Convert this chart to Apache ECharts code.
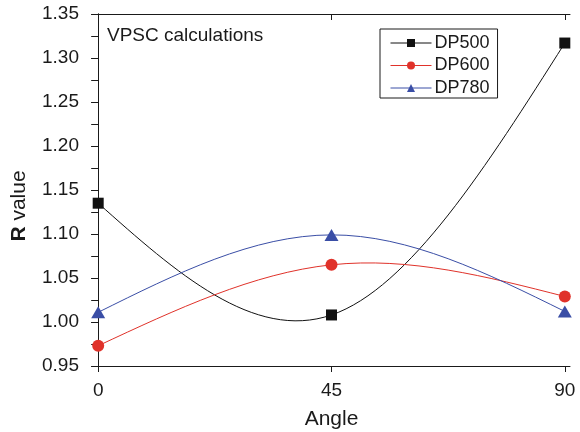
<!DOCTYPE html>
<html>
<head>
<meta charset="utf-8">
<script src="https://cdn.jsdelivr.net/npm/echarts@6/dist/echarts.min.js"></script>
<style>html,body{margin:0;padding:0;background:#fff;}#c{width:580px;height:432px;}</style>
</head>
<body>
<div id="c"></div>
<script>
var angles = [0, 45, 90];
var xTicks = [0, 45, 90];
var dp500 = [1.135, 1.008, 1.317];
var dp600 = [0.973, 1.065, 1.029];
var dp780 = [1.011, 1.099, 1.012];
var seriesNames = ['DP500', 'DP600', 'DP780'];

var colors = ['#111111', '#e0322a', '#3a4ea6'];
var symbols = ['rect', 'circle', 'triangle'];
var symbolSizes = [11, 12, [14, 12]];
var font = 'Liberation Sans, Arial, Helvetica, sans-serif';
var textColor = '#1a1a1a';

// natural cubic spline slopes at segment ends
function splineSlopes(xs, ys) {
  var n = xs.length, h = [], i;
  for (i = 0; i < n - 1; i++) h.push(xs[i + 1] - xs[i]);
  var M = new Array(n).fill(0);
  if (n > 2) {
    var a = [], b = [], c = [], d = [];
    for (i = 1; i < n - 1; i++) {
      a.push(h[i - 1]); b.push(2 * (h[i - 1] + h[i])); c.push(h[i]);
      d.push(6 * ((ys[i + 1] - ys[i]) / h[i] - (ys[i] - ys[i - 1]) / h[i - 1]));
    }
    var m = b.length;
    for (i = 1; i < m; i++) {
      var w = a[i] / b[i - 1];
      b[i] -= w * c[i - 1]; d[i] -= w * d[i - 1];
    }
    var sol = new Array(m);
    sol[m - 1] = d[m - 1] / b[m - 1];
    for (i = m - 2; i >= 0; i--) sol[i] = (d[i] - c[i] * sol[i + 1]) / b[i];
    for (i = 0; i < m; i++) M[i + 1] = sol[i];
  }
  var segs = [];
  for (i = 0; i < n - 1; i++) {
    var sl = (ys[i + 1] - ys[i]) / h[i];
    segs.push({
      s0: sl - h[i] * (2 * M[i] + M[i + 1]) / 6,
      s1: sl + h[i] * (M[i] + 2 * M[i + 1]) / 6,
      h: h[i]
    });
  }
  return segs;
}

function curveSeries(ys, color, name) {
  var segs = splineSlopes(angles, ys);
  return {
    type: 'custom',
    name: name + ' fit',
    z: 2,
    silent: true,
    clip: true,
    encode: { x: 0, y: 1 },
    data: angles.map(function (x, i) { return [x, ys[i]]; }),
    renderItem: function (params, api) {
      var i = params.dataIndex;
      if (i >= angles.length - 1) return null;
      var sg = segs[i];
      var x0 = angles[i], x1 = angles[i + 1];
      var p0 = api.coord([x0, ys[i]]);
      var c1 = api.coord([x0 + sg.h / 3, ys[i] + sg.s0 * sg.h / 3]);
      var c2 = api.coord([x1 - sg.h / 3, ys[i + 1] - sg.s1 * sg.h / 3]);
      var p1 = api.coord([x1, ys[i + 1]]);
      return {
        type: 'bezierCurve',
        shape: { x1: p0[0], y1: p0[1], cpx1: c1[0], cpy1: c1[1], cpx2: c2[0], cpy2: c2[1], x2: p1[0], y2: p1[1] },
        style: { stroke: color, lineWidth: 1, fill: null }
      };
    }
  };
}

function pointSeries(ys, k) {
  return {
    type: 'line',
    name: seriesNames[k],
    z: 3,
    data: angles.map(function (x, i) { return [x, ys[i]]; }),
    symbol: symbols[k],
    symbolSize: symbolSizes[k],
    showSymbol: true,
    itemStyle: { color: colors[k] },
    lineStyle: { width: 0, color: colors[k] },
    emphasis: { disabled: true }
  };
}

var allY = [dp500, dp600, dp780];
var series = [];
allY.forEach(function (ys, k) { series.push(curveSeries(ys, colors[k], seriesNames[k])); });
allY.forEach(function (ys, k) { series.push(pointSeries(ys, k)); });

var axisLine = { show: true, lineStyle: { color: '#1a1a1a', width: 1 } };

var option = {
  animation: false,
  backgroundColor: '#fff',
  textStyle: { fontFamily: font, color: textColor },
  grid: { left: 93, right: 10, top: 14, bottom: 66, containLabel: false, outerBoundsMode: 'none' },
  xAxis: [
    {
      type: 'value', position: 'bottom', min: -1, max: 91,
      name: 'Angle', nameLocation: 'middle', nameGap: 43,
      nameTextStyle: { fontSize: 21, color: textColor, fontFamily: font },
      axisLine: axisLine,
      axisTick: { show: true, inside: false, length: 6, customValues: xTicks, lineStyle: { color: '#1a1a1a' } },
      axisLabel: { show: true, customValues: xTicks, fontSize: 19, color: textColor, margin: 15, fontFamily: font },
      splitLine: { show: false }
    },
    {
      type: 'value', position: 'top', min: -1, max: 91,
      axisLine: axisLine,
      axisTick: { show: true, inside: true, length: 6, customValues: xTicks, lineStyle: { color: '#1a1a1a' } },
      axisLabel: { show: false },
      splitLine: { show: false }
    }
  ],
  yAxis: [
    {
      type: 'value', position: 'left', min: 0.95, max: 1.35, interval: 0.05,
      name: '{b|R} value', nameLocation: 'middle', nameGap: 63, nameRotate: 90,
      nameTextStyle: { fontSize: 21, color: textColor, fontFamily: font, padding: [0, 32, 0, 0], rich: { b: { fontWeight: 'bold', fontSize: 21, fontFamily: font, color: textColor } } },
      axisLine: axisLine,
      axisTick: { show: true, inside: false, length: 7, lineStyle: { color: '#1a1a1a' } },
      minorTick: { show: true, splitNumber: 2, length: 4, lineStyle: { color: '#1a1a1a' } },
      axisLabel: {
        show: true, fontSize: 19, color: textColor, margin: 14, fontFamily: font,
        formatter: function (v) { return v.toFixed(2); }
      },
      splitLine: { show: false }
    },
    {
      type: 'value', position: 'right', min: 0.95, max: 1.35, interval: 0.05,
      axisLine: axisLine,
      axisTick: { show: true, inside: true, length: 7, lineStyle: { color: '#1a1a1a' } },
      minorTick: { show: true, splitNumber: 2, length: 7, lineStyle: { color: '#1a1a1a' } },
      axisLabel: { show: false },
      splitLine: { show: false }
    }
  ],
  legend: {
    show: true,
    data: seriesNames,
    orient: 'vertical',
    left: 380, top: 29,
    itemWidth: 41, itemHeight: 10, itemGap: 4.5,
    padding: [5, 8, 1, 10],
    borderColor: '#1a1a1a', borderWidth: 1, borderRadius: 0,
    backgroundColor: '#fff',
    lineStyle: { width: 1 },
    textStyle: { fontSize: 18, color: textColor, fontFamily: font, padding: [0, 0, 0, -2] },
    selectedMode: false
  },
  graphic: [
    {
      type: 'text', left: 107, top: 26, z: 10,
      style: { text: 'VPSC calculations', fontSize: 19, fill: textColor, fontFamily: font }
    }
  ],
  series: series
};

var chart = echarts.init(document.getElementById('c'), null, { renderer: 'canvas' });
chart.setOption(option);
</script>
</body>
</html>
